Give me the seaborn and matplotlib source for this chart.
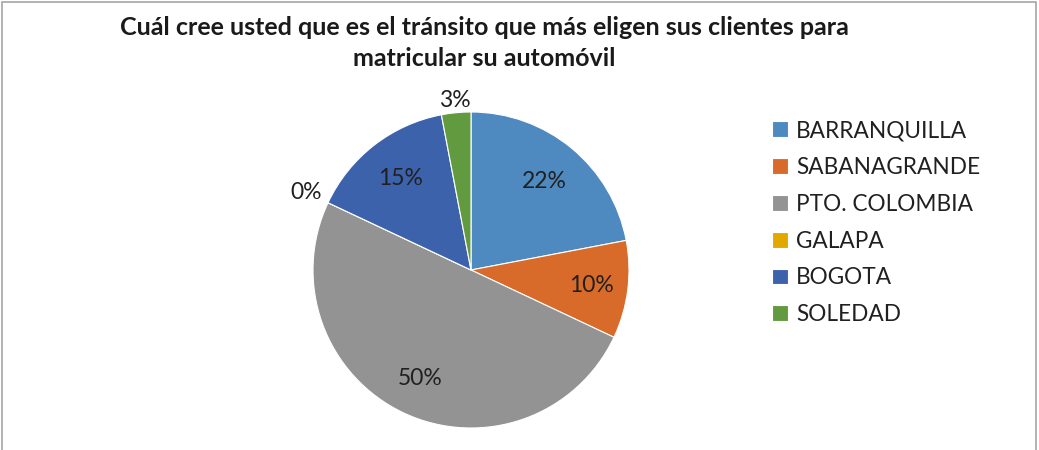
import matplotlib
matplotlib.use("Agg")
import matplotlib.pyplot as plt
import seaborn as sns
import numpy as np
from matplotlib.patches import Rectangle

categories = ["BARRANQUILLA", "SABANAGRANDE", "PTO. COLOMBIA", "GALAPA", "BOGOTA", "SOLEDAD"]
values = [22, 10, 50, 0, 15, 3]
pct_labels = ["22%", "10%", "50%", "0%", "15%", "3%"]
title = "Cuál cree usted que es el tránsito que más eligen sus clientes para\nmatricular su automóvil"

colors = ["#4E8AC0", "#D86B2A", "#939393", "#E3A800", "#3D62AC", "#629B3F"]
label_dist = [0.73, 0.77, 0.76, 1.15, 0.73, 1.08]

sns.set_theme(style="white")
plt.rcParams["font.family"] = ["Lato", "DejaVu Sans"]

W, H = 1039, 450
fig = plt.figure(figsize=(W / 100, H / 100), dpi=100)
fig.patch.set_facecolor("white")

cx, cy, r = 471, 270, 158
ax = fig.add_axes([(cx - r) / W, (H - cy - r) / H, 2 * r / W, 2 * r / H])
wedges, _ = ax.pie(values, colors=colors, startangle=90, counterclock=False,
                   wedgeprops=dict(linewidth=0.8, edgecolor="white"))
ax.set_xlim(-1, 1)
ax.set_ylim(-1, 1)
ax.set_aspect("equal")
for w, lab, d in zip(wedges, pct_labels, label_dist):
    ang = np.deg2rad((w.theta1 + w.theta2) / 2)
    ax.text(d * np.cos(ang), d * np.sin(ang), lab, ha="center", va="center",
            fontsize=16.5, color="#202020", clip_on=False)

fig.text(484 / W, 1 - 43 / H, title, ha="center", va="center", fontsize=18,
         fontweight="bold", color="#1a1a1a", linespacing=1.42)

leg = fig.legend(wedges, categories, loc="upper left",
                 bbox_to_anchor=(763 / W, 1 - 111 / H), frameon=False,
                 fontsize=16.3, handlelength=0.7, handleheight=0.7,
                 handletextpad=0.35, labelspacing=0.7, borderaxespad=0)
for t in leg.get_texts():
    t.set_color("#202020")

fig.patches.append(Rectangle((2 / W, -0.05), (W - 5) / W, 1.05 - 2.5 / H,
                             transform=fig.transFigure, fill=False,
                             edgecolor="#A6A6A6", linewidth=1.2))

fig.savefig("out.png", dpi=100, facecolor="white")
